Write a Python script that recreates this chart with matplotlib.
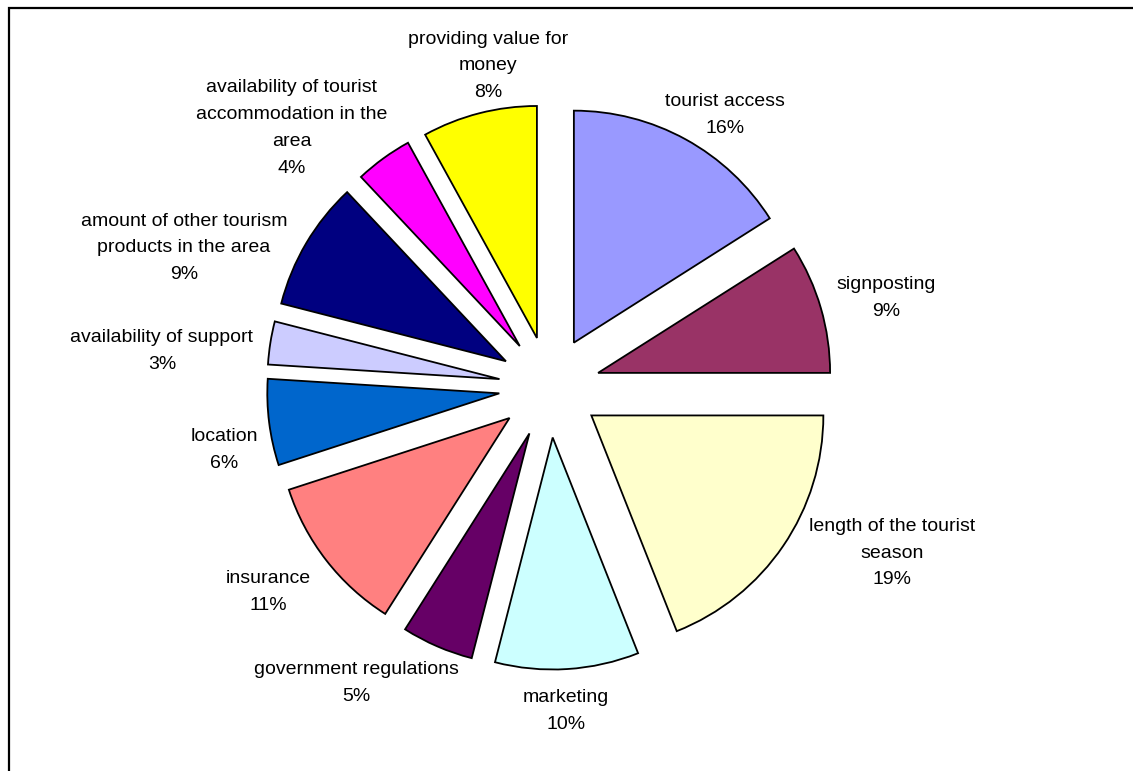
import matplotlib
matplotlib.use("Agg")
import matplotlib.pyplot as plt
from matplotlib.patches import Rectangle

# ---------------------------------------------------------
# Barriers to tourism development (share of responses)
# ---------------------------------------------------------
categories = [
    "tourist access",
    "signposting",
    "length of the tourist\nseason",
    "marketing",
    "government regulations",
    "insurance",
    "location",
    "availability of support",
    "amount of other tourism\nproducts in the area",
    "availability of tourist\naccommodation in the\narea",
    "providing value for\nmoney",
]
shares = [16, 9, 19, 10, 5, 11, 6, 3, 9, 4, 8]

colors = ["#9999FF", "#993366", "#FFFFCC", "#CCFFFF", "#660066", "#FF8080",
          "#0066CC", "#CCCCFF", "#000080", "#FF00FF", "#FFFF00"]

# label anchor points (pixels from top-left)
label_xy = [(725, 115), (886, 298), (892, 553), (566, 711), (356, 683),
            (268, 592), (224, 450), (162, 351), (184, 248), (292, 128),
            (488, 66)]

W, H = 1133, 771
R = 232          # pie radius in pixels
OFFSET = 50.6    # every slice pulled out by the same distance

fig = plt.figure(figsize=(W / 100, H / 100), dpi=100)
ax = fig.add_axes([0, 0, 1, 1])

ax.pie(shares, colors=colors, startangle=90, counterclock=False,
       radius=R, center=(549.5, H - 387), explode=[OFFSET] * len(shares),
       wedgeprops=dict(edgecolor="black", linewidth=1.3))

for name, val, (x, y) in zip(categories, shares, label_xy):
    ax.text(x, H - y, f"{name}\n{val}%", ha="center", va="center",
            multialignment="center", linespacing=1.75, fontsize=14,
            family="Liberation Sans", color="black")

# chart area outline (right and bottom edges fall outside the image)
ax.add_patch(Rectangle((9, -20), W + 40, H - 8 + 20, fill=False,
                       edgecolor="black", linewidth=1.6))

ax.set_xlim(0, W)
ax.set_ylim(0, H)
ax.set_aspect("equal")
ax.axis("off")

fig.savefig("out.png", dpi=100)
